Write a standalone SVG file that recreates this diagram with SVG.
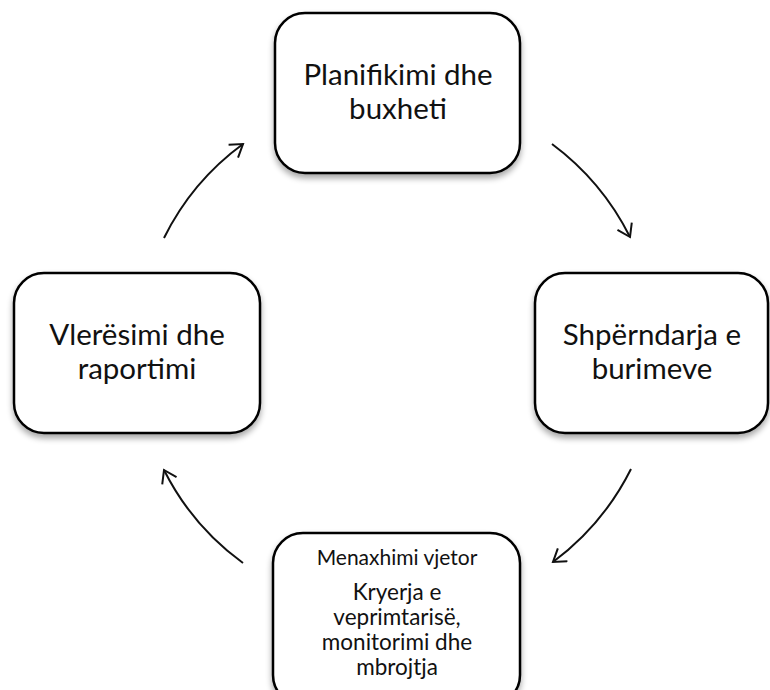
<svg xmlns="http://www.w3.org/2000/svg" width="770" height="690" viewBox="0 0 770 690">
<style>
.box{fill:#fff;stroke:#000;stroke-width:2.5;filter:url(#sh)}
.t{font-family:Lato,"Open Sans","Liberation Sans",sans-serif;fill:#111;text-anchor:middle}
.big{font-size:29.5px}
.mid{font-size:22.5px}
.sm{font-size:21px}
.arr{fill:none;stroke:#111;stroke-width:2;marker-end:url(#ah)}
</style>
<defs>
<filter id="sh" x="-10%" y="-10%" width="130%" height="130%">
<feGaussianBlur in="SourceAlpha" stdDeviation="3"/>
<feOffset dx="0" dy="4" result="b"/>
<feComponentTransfer><feFuncA type="linear" slope="0.35"/></feComponentTransfer>
<feMerge><feMergeNode/><feMergeNode in="SourceGraphic"/></feMerge>
</filter>
<marker id="ah" markerWidth="22" markerHeight="22" refX="13" refY="9" orient="auto" markerUnits="userSpaceOnUse">
<path d="M1,1 L13,9 L1,17" fill="none" stroke="#111" stroke-width="2"/>
</marker>
</defs>
<rect width="770" height="690" fill="#fff"/>
<g id="connectors">
<path class="arr" d="M552,144 A262,262 0 0 1 630,237"/>
<path class="arr" d="M631,469 A262,262 0 0 1 553,562"/>
<path class="arr" d="M243,563 A258,258 0 0 1 164,470"/>
<path class="arr" d="M164,238 A258,258 0 0 1 243,144"/>
</g>
<g id="n1">
<rect class="box" x="275" y="13" width="245" height="160" rx="30"/>
<text class="t big" x="398" y="85">Planifikimi dhe</text>
<text class="t big" x="398" y="119">buxheti</text>
</g>
<g id="n2">
<rect class="box" x="535" y="273" width="233" height="160" rx="30"/>
<text class="t big" x="652" y="345">Shpërndarja e</text>
<text class="t big" x="652" y="379">burimeve</text>
</g>
<g id="n3">
<rect class="box" x="273" y="533" width="247" height="172" rx="30"/>
<text class="t sm" x="397" y="565">Menaxhimi vjetor</text>
<text class="t mid" x="397" y="600">Kryerja e</text>
<text class="t mid" x="397" y="625">veprimtarisë,</text>
<text class="t mid" x="397" y="650">monitorimi dhe</text>
<text class="t mid" x="397" y="675">mbrojtja</text>
</g>
<g id="n4">
<rect class="box" x="14" y="273" width="246" height="160" rx="30"/>
<text class="t big" x="137" y="345">Vlerësimi dhe</text>
<text class="t big" x="137" y="379">raportimi</text>
</g>
</svg>
